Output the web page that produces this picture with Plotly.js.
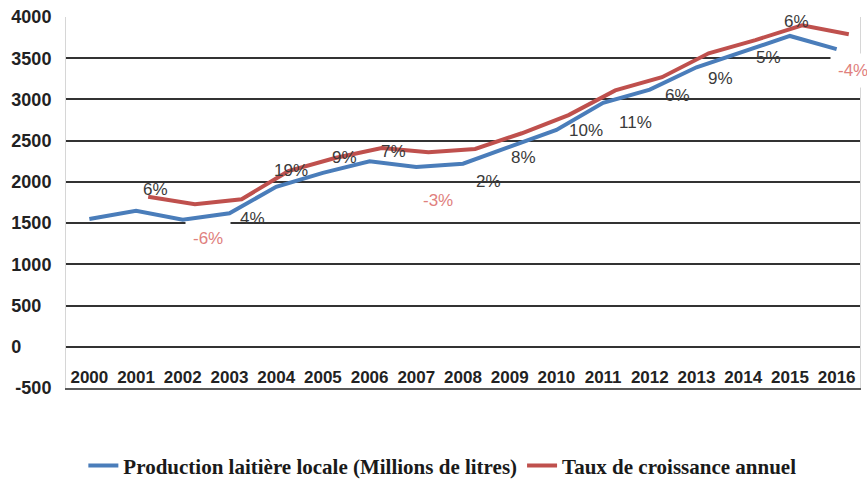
<!DOCTYPE html>
<html>
<head>
<meta charset="utf-8">
<script src="https://cdn.plot.ly/plotly-3.0.1.min.js"></script>
<style>
  html, body { margin: 0; padding: 0; background: #fff; }
  #chart { width: 867px; height: 479px; }
</style>
</head>
<body>
<div id="chart"></div>
<script>
// Production laitière locale vs taux de croissance annuel, 2000-2016

const YEARS = [2000, 2001, 2002, 2003, 2004, 2005, 2006, 2007, 2008,
  2009, 2010, 2011, 2012, 2013, 2014, 2015, 2016];

// blue curve, millions of litres
const PRODUCTION = [1550, 1650, 1540, 1620, 1940, 2110, 2250, 2180, 2220,
  2420, 2630, 2960, 3120, 3390, 3580, 3770, 3610];

// red curve as drawn in the source (starts in 2001)
const GROWTH_YEARS = YEARS.slice(1);
const GROWTH_CURVE = [1820, 1730, 1790, 2130, 2290, 2410, 2360, 2400,
  2590, 2810, 3110, 3270, 3560, 3720, 3900, 3790];
const GROWTH_PCT = [6, -6, 4, 19, 9, 7, -3, 2, 8, 10, 11, 6, 9, 5, 6, -4];

const Y_TICKS = [-500, 0, 500, 1000, 1500, 2000, 2500, 3000, 3500, 4000];
// left-aligned look: pad with figure spaces
const Y_TICK_TEXT = ['-500', '0\u2007\u2007\u2007', '500\u2007', '1000', '1500',
  '2000', '2500', '3000', '3500', '4000'];

// label nudges (px) relative to the red point
const LABEL_SHIFT = [
  [7, 7], [13, -34], [11, -19], [3, 1], [9, 0], [12, -3], [10, -48], [13, -33],
  [2, -24], [17, -15], [20, -32], [16, -18], [12, -25], [13, -17], [-6, 4], [4, -36],
];

const BLUE = '#4a7dba';
const RED = '#bf504d';
const SANS = 'Liberation Sans, Arial, sans-serif';

const traces = [
  {
    x: YEARS, y: PRODUCTION, type: 'scatter', mode: 'lines',
    name: 'Production laitière locale (Millions de litres)',
    line: { color: BLUE, width: 4 },
  },
  {
    x: GROWTH_YEARS, y: GROWTH_CURVE, type: 'scatter', mode: 'lines',
    xaxis: 'x2',
    name: 'Taux de croissance annuel',
    line: { color: RED, width: 4 },
  },
];

const annotations = GROWTH_PCT.map((v, i) => {
  const neg = v < 0;
  return {
    x: GROWTH_YEARS[i], y: GROWTH_CURVE[i], xref: 'x2', yref: 'y',
    text: `${v}%`, showarrow: false,
    xshift: LABEL_SHIFT[i][0], yshift: LABEL_SHIFT[i][1],
    font: { family: SANS, size: 17, color: neg ? '#e0807d' : '#3a3a3a' },
    bgcolor: neg ? '#ffffff' : 'rgba(0,0,0,0)',
    borderpad: neg ? 7 : 0,
  };
});

const layout = {
  width: 867, height: 479,
  margin: { l: 66, r: 7, t: 17, b: 91, autoexpand: false },
  paper_bgcolor: '#fff', plot_bgcolor: '#fff',
  showlegend: true,
  legend: {
    orientation: 'h', x: 0.474, xanchor: 'center',
    y: -0.21, yanchor: 'middle',
    font: { family: 'Liberation Serif, Times New Roman, serif', size: 21, weight: 'bold', color: '#1a1a1a' },
    itemwidth: 30,
  },
  xaxis: {
    type: 'linear', range: [1999.5, 2016.5],
    tickvals: YEARS, ticktext: YEARS.map(String), tickangle: 0,
    anchor: 'free', position: 0.063, ticks: '',
    showgrid: false, zeroline: false, showline: false,
    tickfont: { family: SANS, size: 17, weight: 'bold', color: '#222' },
  },
  // shifted overlay for the red series; its line doubles as the bottom border
  xaxis2: {
    overlaying: 'x', range: [1999.24, 2016.24],
    showticklabels: false, ticks: '', showgrid: false, zeroline: false,
    showline: true, linecolor: '#5a5a5a', linewidth: 2,
  },
  yaxis: {
    range: [-500, 4000],
    tickvals: Y_TICKS, ticktext: Y_TICK_TEXT, ticks: '',
    showgrid: true, gridcolor: '#333', gridwidth: 2,
    zeroline: true, zerolinecolor: '#333', zerolinewidth: 2,
    showline: true, mirror: true, linecolor: '#d6d6d6', linewidth: 1,
    tickfont: { family: SANS, size: 18, weight: 'bold', color: '#222' },
    ticklabelstandoff: 10,
  },
  annotations,
};

Plotly.newPlot('chart', traces, layout, { displayModeBar: false, staticPlot: true });
</script>
</body>
</html>
